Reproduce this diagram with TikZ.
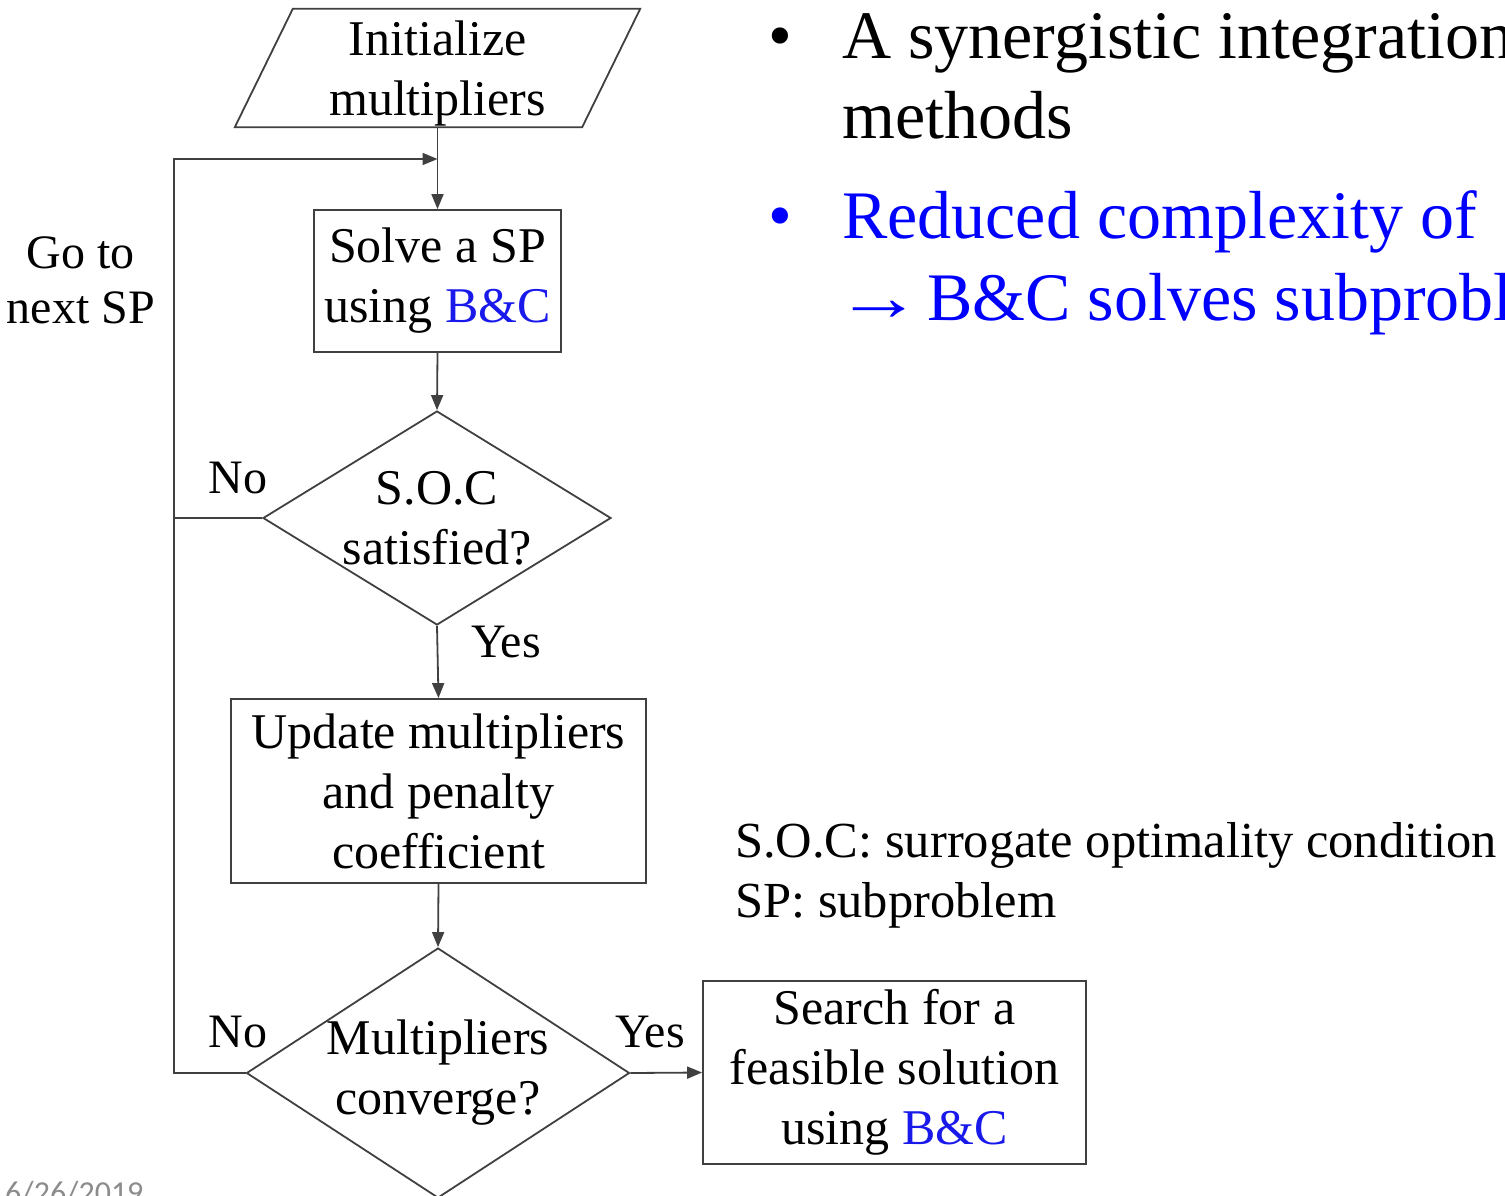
\documentclass[tikz,border=0pt]{standalone}
\usepackage{graphicx}
\usepackage{fontspec}
\setmainfont{Liberation Serif}
\newfontfamily\datefont{Carlito}
\usetikzlibrary{shapes.geometric,arrows.meta}
\definecolor{ln}{RGB}{64,64,64}
\definecolor{bc}{RGB}{25,25,235}
\definecolor{bl}{RGB}{0,0,255}
\definecolor{dategray}{RGB}{140,140,140}
\tikzset{
  ff/.style={font=\fontsize{50}{60}\selectfont, align=center},
  bigtxt/.style={font=\fontsize{68}{80}\selectfont, anchor=base west, inner sep=0pt},
  lbl/.style={font=\fontsize{48}{58}\selectfont, anchor=base, inner sep=0pt},
  procbox/.style={draw=ln, line width=1.8pt, inner sep=0pt, rectangle, ff},
  dia/.style={draw=ln, line width=1.8pt, diamond, inner sep=0pt, shape aspect=1},
  conn/.style={draw=ln, line width=1.8pt, -{Triangle[length=15pt,width=12pt]}},
  plain/.style={draw=ln, line width=1.8pt},
}
\begin{document}
\begin{tikzpicture}[x=1pt,y=-1pt]
\useasboundingbox (0,0) rectangle (1505,1195);
\clip (0,0) rectangle (1505,1195);

% Initialize (parallelogram)
\node[inner sep=0pt, minimum width=347, minimum height=118] (init) at (437.5,68) {};
\node[ff, inner sep=0pt] (initt) at (437.5,73) {Initialize\\multipliers};
\draw[plain] ([xshift=-29pt]init.south west) -- ([xshift=-29pt]init.south east)
  -- ([xshift=29pt]init.north east) -- ([xshift=29pt]init.north west) -- cycle;

% Solve box
\node[procbox, minimum width=247, minimum height=142] (solve) at (437.5,281) {Solve a SP\\using \textcolor{bc}{B\&C}};

% Diamond 1
\node[dia, minimum width=348, minimum height=214] (d1) at (437,518) {};
\node[ff, inner sep=0pt] (d1t) at (437,518) {S.O.C\\satisfied?};

% Update box
\node[procbox, minimum width=415, minimum height=184] (upd) at (438.5,791) {Update multipliers\\and penalty\\coefficient};

% Diamond 2
\node[dia, minimum width=383, minimum height=250] (d2) at (438,1073) {};
\node[ff, inner sep=0pt] (d2t) at (438,1073) {Multipliers\\converge?};

% Search box
\node[procbox, minimum width=383, minimum height=183] (srch) at (894.5,1072.5) {Search for a\\feasible solution\\using \textcolor{bc}{B\&C}};

% feedback coordinates
\coordinate (lb) at (174,1073);
\coordinate (l1) at (174,518);
\coordinate (lt) at (174,159);
\coordinate (mt) at (437.5,159);

% connectors
\draw[conn] (init.south) -- (solve.north);
\draw[conn] (solve.south) -- (d1.north);
\draw[conn] (d1.south) -- (upd.north);
\draw[conn] (upd.south) -- (d2.north);
\draw[conn] (d2.east) -- (srch.west);
\draw[plain] (d1.west) -- (l1);
\draw[conn] (d2.west) -- (lb) -- (lt) -- (mt);

% labels
\node[lbl] (no1) at (238,493) {No};
\node[lbl] (yes1) at (506,657) {Yes};
\node[lbl] (no2) at (238,1047) {No};
\node[lbl] (yes2) at (650,1047) {Yes};
\node[lbl] (go1) at (81,268) {Go to};
\node[lbl] (go2) at (81,323) {next SP};

% legend
\node[lbl, font=\fontsize{50.5}{60}\selectfont, anchor=base west] (leg1) at (735,857) {S.O.C: surrogate optimality condition};
\node[lbl, font=\fontsize{50.5}{60}\selectfont, anchor=base west] (leg2) at (735,917) {SP: subproblem};

% bullets
\node[bigtxt] (b1) at (768,58) {•};
\node[bigtxt] (t1) at (842,58) {A synergistic integration};
\node[bigtxt] (t2) at (842,138) {methods};
\node[bigtxt, text=bl] (b2) at (768,238) {•};
\node[bigtxt, text=bl] (t3) at (842,238) {Reduced complexity of};
\node[bigtxt, text=bl] (t4a) at (835,320) {\scalebox{1.28}[1]{→}};
\node[bigtxt, text=bl] (t4) at (927,320) {B\&C solves subproblems};

% date
\node[anchor=base west, inner sep=0pt, font=\fontsize{32}{38}\datefont, text=dategray] (date) at (5,1203) {6/26/2019};
\end{tikzpicture}
\end{document}
